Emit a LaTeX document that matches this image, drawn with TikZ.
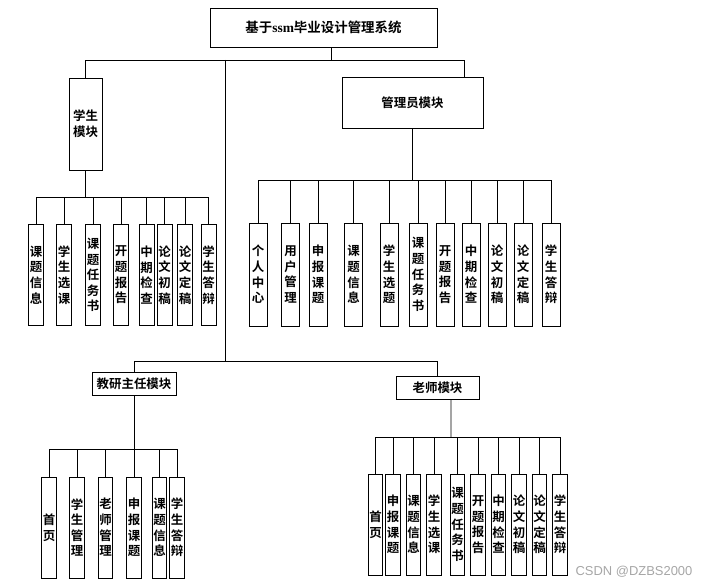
\documentclass[tikz,border=0pt]{standalone}
\usepackage{fontspec}
\setmainfont{Liberation Serif}
\newfontfamily\cjk{Noto Sans CJK SC}[BoldFont={Noto Sans CJK SC Bold}]
\newfontfamily\wmfont{Liberation Sans}
\usetikzlibrary{positioning}

\begin{document}
\begin{tikzpicture}[
    x=1bp, y=-1bp,
    line width=0.9bp,
    txt/.style={font=\cjk\bfseries\fontsize{12.5}{15.7}\selectfont, align=center, inner sep=0pt},
    modbox/.style={draw, txt},
    leaf/.style={draw, txt, minimum width=#1, minimum height=101bp}
]
\useasboundingbox (0,0) rectangle (708,588);

% top level
\node[modbox, minimum width=227bp, minimum height=39bp, font=\cjk\bfseries\fontsize{13.5}{16}\selectfont] (title) at (323.5,27.5) {基于{\rmfamily ssm}毕业设计管理系统};
\node[modbox, minimum width=33bp, minimum height=92bp] (stu) at (85.5,124) {学生\\模块};
\node[modbox, minimum width=141bp, minimum height=51bp] (adm) at (412.5,102.5) {管理员模块};
\node[modbox, minimum width=84bp, minimum height=23bp] (jy) at (134,383.5) {教研主任模块};
\node[modbox, minimum width=83bp, minimum height=23bp] (ls) at (437.5,387.5) {老师模块};

\coordinate (topbus) at (331.5,60);
\coordinate (midbus) at (225,361);
\draw ([xshift=8bp]title.south) -- (topbus);
\draw (topbus) -| (stu.north);
\draw (topbus) -| ([xshift=51.5bp]adm.north);
\draw (topbus -| midbus) -- (midbus);
\draw (midbus) -| (jy.north);
\draw (midbus) -| (ls.north);

% student module
\coordinate (stubus) at (85.5,197);
\draw (stu.south) -- (stubus);
\foreach \x/\lbl [count=\i] in {36/课\\题\\信\\息, 64/学\\生\\选\\课, 93/课\\题\\任\\务\\书, 121/开\\题\\报\\告,
    146.5/中\\期\\检\\查, 164.5/论\\文\\初\\稿, 185/论\\文\\定\\稿, 208.5/学\\生\\答\\辩} {
  \node[leaf=15bp] (s\i) at (\x,275) {\lbl};
  \draw (stubus) -| (s\i.north);
}

% admin module
\coordinate (admbus) at (412.5,180);
\draw (adm.south) -- (admbus);
\foreach \x/\lbl [count=\i] in {258/个\\人\\中\\心, 290.5/用\\户\\管\\理, 318/申\\报\\课\\题, 353.5/课\\题\\信\\息,
    389/学\\生\\选\\题, 418/课\\题\\任\\务\\书, 445/开\\题\\报\\告, 471/中\\期\\检\\查,
    497/论\\文\\初\\稿, 523/论\\文\\定\\稿, 551/学\\生\\答\\辩} {
  \node[leaf=18bp, minimum height=103bp] (a\i) at (\x,274.5) {\lbl};
  \draw (admbus) -| (a\i.north);
}

% director module
\coordinate (jybus) at (134,449);
\draw (jy.south) -- (jybus);
\foreach \x/\lbl [count=\i] in {49/首\\页, 77/学\\生\\管\\理, 105.5/老\\师\\管\\理, 134/申\\报\\课\\题,
    159.5/课\\题\\信\\息, 177/学\\生\\答\\辩} {
  \node[leaf=14.5bp] (j\i) at (\x,527.5) {\lbl};
  \draw (jybus) -| (j\i.north);
}

% teacher module
\coordinate (lsbus) at (451,437);
\draw ([xshift=13.5bp]ls.south) -- (lsbus);
\foreach \x/\lbl [count=\i] in {375.5/首\\页, 393/申\\报\\课\\题, 413.5/课\\题\\信\\息, 434/学\\生\\选\\课,
    457.5/课\\题\\任\\务\\书, 478/开\\题\\报\\告, 498.5/中\\期\\检\\查, 519/论\\文\\初\\稿,
    539.5/论\\文\\定\\稿, 560/学\\生\\答\\辩} {
  \node[leaf=14.5bp] (t\i) at (\x,524.5) {\lbl};
  \draw (lsbus) -| (t\i.north);
}

\node[font=\wmfont\fontsize{13}{15}\selectfont, text=gray!70, inner sep=0pt] (mark) at (634,572) {CSDN @DZBS2000};
\end{tikzpicture}
\end{document}
